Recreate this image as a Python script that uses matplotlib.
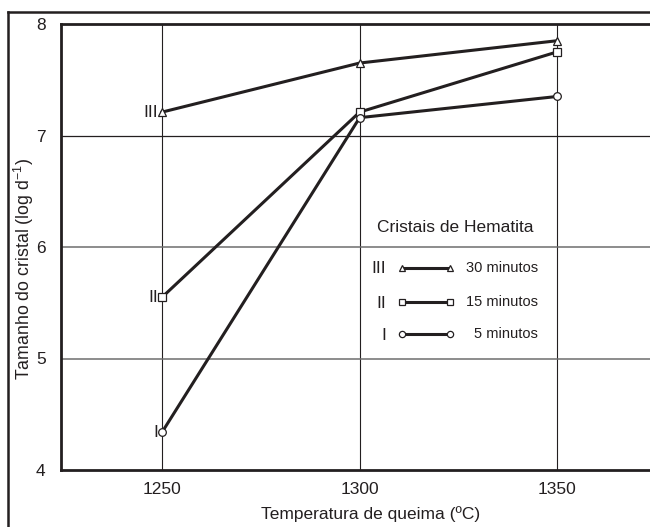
import matplotlib.pyplot as plt
from matplotlib.lines import Line2D

plt.rcParams['font.family'] = ['Liberation Sans', 'DejaVu Sans']

# data
temps = [1250, 1300, 1350]
size_30min = [7.21, 7.65, 7.85]   # III
size_15min = [5.55, 7.21, 7.75]   # II
size_5min = [4.34, 7.16, 7.35]    # I

series_names = ["III", "II", "I"]
series_labels = ["30 minutos", "15 minutos", "5 minutos"]
series_markers = ["^", "s", "o"]

INK = "#231f20"
W, H = 650, 527
FS = 12.5


def fx(px):
    return px / W


def fy(py):
    return 1 - py / H


fig = plt.figure(figsize=(6.5, 5.27), dpi=100)

# outer frame (only left and top edges fall inside the picture)
fig.add_artist(Line2D([fx(8), fx(8)], [fy(12), -0.1], color=INK, lw=1.8))
fig.add_artist(Line2D([fx(8), 1.1], [fy(12), fy(12)], color=INK, lw=1.8))

# axes run off the right edge of the picture
ax_w = 680 - 61
ax_h = 470 - 24
ax = fig.add_axes([fx(61), fy(470), ax_w / W, ax_h / H])
ax.set_xlim(1224.4, 1381.1)
ax.set_ylim(4, 8)

for s in ["left", "top", "bottom"]:
    ax.spines[s].set_linewidth(2.0)
    ax.spines[s].set_color(INK)
ax.spines["right"].set_visible(False)

ax.set_xticks(temps)
ax.set_yticks([4, 5, 6, 7, 8])
ax.tick_params(length=0, labelsize=FS, colors=INK)
ax.tick_params(axis="x", pad=9)
ax.tick_params(axis="y", pad=11)

# grid
for t in temps:
    ax.axvline(t, color=INK, lw=0.8, zorder=1)
ax.axhline(7, color=INK, lw=0.9, zorder=1)
ax.axhline(6, color="#6d6d6d", lw=1.1, zorder=1)
ax.axhline(5, color="#6d6d6d", lw=1.1, zorder=1)

all_series = [size_30min, size_15min, size_5min]
for vals, m in zip(all_series, series_markers):
    ax.plot(temps, vals, color=INK, lw=2.2, marker=m, markersize=5.5,
            markerfacecolor="white", markeredgecolor=INK, markeredgewidth=0.9,
            zorder=3)

# roman numeral tags at the first point
for vals, name in zip(all_series, series_names):
    ax.annotate(name, (temps[0], vals[0]), xytext=(-3, 0),
                textcoords="offset points", ha="right", va="center",
                fontsize=FS, color=INK)

ax.set_xlabel("Temperatura de queima (ºC)", fontsize=FS, color=INK, labelpad=6)
ax.set_ylabel(r"Tamanho do cristal (log d$^{\mathregular{-1}}$)", fontsize=12.8,
              color=INK, va="center")
ax.yaxis.set_label_coords(-(61 - 24) / ax_w, 1 - (269 - 24) / ax_h)

# hand-made key
fig.text(fx(455), fy(228), "Cristais de Hematita", ha="center", va="center",
         fontsize=FS, color=INK)
key_rows = [268, 302, 334]
for row, name, lab, m in zip(key_rows, series_names, series_labels, series_markers):
    fig.add_artist(Line2D([fx(402), fx(450)], [fy(row), fy(row)], color=INK,
                          lw=2.2, marker=m, markersize=4.5,
                          markerfacecolor="white", markeredgecolor=INK,
                          markeredgewidth=0.9))
    fig.text(fx(386), fy(row + 1), name, ha="right", va="center",
             fontsize=FS, color=INK)
    fig.text(fx(538), fy(row), lab, ha="right", va="center",
             fontsize=10.5, color=INK)

plt.savefig("out.png", dpi=100)
plt.close()
